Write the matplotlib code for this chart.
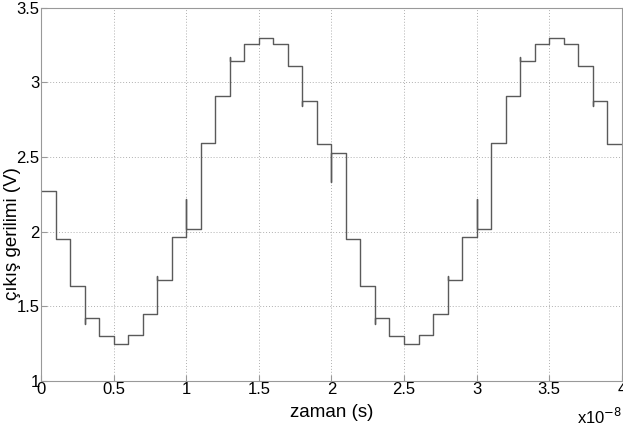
"""Sample-and-hold output voltage, step plot."""
import matplotlib
matplotlib.use("Agg")
import matplotlib.pyplot as plt
import numpy as np

plt.rcParams["font.family"] = ["Liberation Sans", "DejaVu Sans"]

# step width (x1e-8 s) and held levels (V), one per step
step = 0.1
levels = [
    2.27, 1.95, 1.635, 1.42, 1.30, 1.248, 1.306, 1.449, 1.675, 1.963,
    2.019, 2.597, 2.912, 3.14, 3.254, 3.30, 3.254, 3.107, 2.877, 2.586,
    2.526, 1.95, 1.635, 1.42, 1.30, 1.248, 1.306, 1.449, 1.675, 1.963,
    2.019, 2.597, 2.912, 3.14, 3.254, 3.30, 3.254, 3.107, 2.877, 2.586,
]
# switching glitches: step index where the edge overshoots, and the peak value
glitch_idx = [3, 8, 10, 13, 18, 20, 23, 28, 30, 33, 38]
glitch_val = [1.38, 1.704, 2.22, 3.17, 2.843, 2.33, 1.38, 1.704, 2.22, 3.17, 2.843]

xticks = [0, 0.5, 1, 1.5, 2, 2.5, 3, 3.5, 4]
xticklabels = ["0", "0.5", "1", "1.5", "2", "2.5", "3", "3.5", "4"]
yticks = [1, 1.5, 2, 2.5, 3, 3.5]
yticklabels = ["1", "1.5", "2", "2.5", "3", "3.5"]


def build_path(levels, glitches):
    xs, ys = [], []
    for i, v in enumerate(levels):
        t0 = i * step
        if i in glitches:
            xs.append(t0)
            ys.append(glitches[i])
        xs += [t0, t0 + step]
        ys += [v, v]
    return np.array(xs), np.array(ys)


def main() -> None:
    x, y = build_path(levels, dict(zip(glitch_idx, glitch_val)))

    fig = plt.figure(figsize=(6.23, 4.30), dpi=100)
    ax = fig.add_axes([0.066, 0.114, 0.932, 0.868])
    ax.plot(x, y, color="#5a5a5a", lw=1.0)

    ax.set_xlim(0, 4)
    ax.set_ylim(1, 3.5)
    ax.set_xticks(xticks)
    ax.set_xticklabels(xticklabels)
    ax.set_yticks(yticks)
    ax.set_yticklabels(yticklabels)
    ax.grid(True, linestyle=(0, (1, 2)), color="#b0b0b0", lw=0.7)
    for s in ax.spines.values():
        s.set_color("#999999")
    ax.tick_params(direction="in", length=4, color="#999999", labelsize=12,
                   labelcolor="black", pad=1)

    ax.set_xlabel("zaman (s)", fontsize=13.5, labelpad=5)
    ax.set_ylabel("çıkış gerilimi (V)", fontsize=13.5)
    # label sits below the axes centre in the original
    ax.yaxis.set_label_coords(-0.034, 0.395)
    ax.text(1.0, -0.07, "x10$^{-8}$", transform=ax.transAxes, ha="right",
            va="top", fontsize=12)

    fig.savefig("out.png", dpi=100)
    plt.close(fig)


if __name__ == "__main__":
    main()
